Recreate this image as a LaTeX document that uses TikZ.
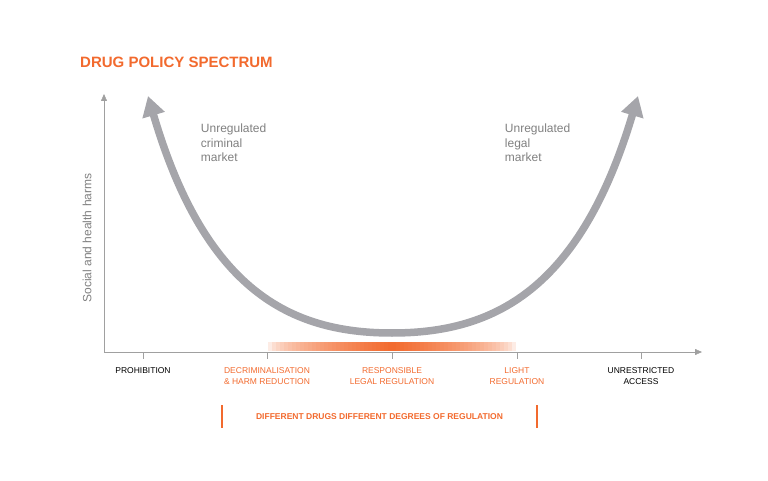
\documentclass[tikz,border=0pt]{standalone}
\usepackage{fontspec}
\setmainfont{Liberation Sans}
\usetikzlibrary{positioning,arrows.meta}
\definecolor{policyorange}{RGB}{242,106,46}
\definecolor{axisgray}{RGB}{160,160,160}
\definecolor{curvegray}{RGB}{165,165,170}
\tikzset{
  ticklabel/.style={anchor=north, inner sep=0.75pt, font=\fontsize{8.5}{10.5}\selectfont, align=center},
  curvelabel/.style={anchor=north west, inner sep=0.75pt, font=\fontsize{12}{14.5}\selectfont, text=gray, align=left},
}
\begin{document}
\begin{tikzpicture}[x=1pt,y=1pt,yscale=-1,xscale=1]
\useasboundingbox (0,0) rectangle (768,481);

% Title
\node (title) at (80,62) [anchor=west, inner sep=0pt, font=\bfseries\fontsize{15}{17}\selectfont, text=policyorange] {DRUG POLICY SPECTRUM};

% Axes
\coordinate (origin) at (104,352);
\coordinate (xend) at (702,352);
\coordinate (yend) at (104,94);
% gradient bar
\foreach \i in {0,...,61}{
  \pgfmathsetmacro{\op}{sqrt(1-abs(\i-30.5)/31)}
  \fill [policyorange, fill opacity=\op] (268+\i*4,342) rectangle (272.2+\i*4,351);
}
\draw [axisgray, -{Triangle[length=7, width=6]}] (origin) -- (xend);
\draw [axisgray, -{Triangle[length=7, width=6]}] (origin) -- (yend);

% Ticks and labels
\foreach \name/\x/\col/\txt in {prohib/143/black/PROHIBITION,
    decrim/267/policyorange/{DECRIMINALISATION\\\& HARM REDUCTION},
    resp/392/policyorange/{RESPONSIBLE\\LEGAL REGULATION},
    light/517/policyorange/{LIGHT\\REGULATION},
    unrestr/641/black/{UNRESTRICTED\\ACCESS}}{
  \draw [axisgray] (\x,352) -- (\x,359);
  \node (\name) at (\x,367) [ticklabel, text=\col] {\txt};
}

% Y label
\node (ylabel) at (87,238) [rotate=90, font=\fontsize{12}{14}\selectfont, text=gray] {Social and health harms};

% U curve
\draw [curvegray, line width=7.5, {Triangle[length=20, width=22]}-{Triangle[length=20, width=22]}]
  (148,96) .. controls (205,290) and (290,333) .. (392,333)
  .. controls (494,333) and (580,290) .. (638,96);

\node (crim) at (200,123) [curvelabel] {Unregulated\\criminal\\market};
\node (legal) at (504,123) [curvelabel] {Unregulated\\legal\\market};

% Bracket
\draw [policyorange, line width=1.6] (222,405) -- (222,428);
\draw [policyorange, line width=1.6] (537,405) -- (537,428);
\node (degrees) at (379.5,416.5) [inner sep=0pt, font=\bfseries\fontsize{8.5}{10}\selectfont, text=policyorange] {DIFFERENT DRUGS DIFFERENT DEGREES OF REGULATION};
\end{tikzpicture}
\end{document}
